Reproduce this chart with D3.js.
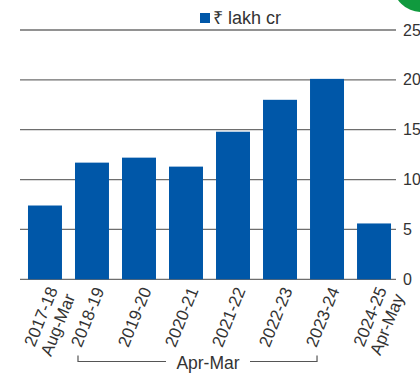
<!DOCTYPE html>
<html lang="en">
<head>
<meta charset="utf-8">
<style>
  body { margin: 0; background: #fff; }
  svg { display: block; font-family: "Liberation Sans", Arial, sans-serif; }
</style>
</head>
<body>
<div id="chart"></div>
<script src="https://d3js.org/d3.v7.min.js"></script>
<script>
const years = ["2017-18", "2018-19", "2019-20", "2020-21", "2021-22", "2022-23", "2023-24", "2024-25"];
const periods = ["Aug-Mar", "", "", "", "", "", "", "Apr-May"];
const values = [7.4, 11.7, 12.2, 11.3, 14.8, 18.0, 20.1, 5.6];
const yTicks = [0, 5, 10, 15, 20, 25];

const width = 420, height = 379;
const blue = "#0057a8";
const ink = "#333";

const svg = d3.select("#chart")
  .append("svg")
  .attr("width", width)
  .attr("height", height);

const x = d3.scaleBand()
  .domain(years)
  .range([21.5, 397.5])
  .paddingInner(0.277)
  .paddingOuter(0.138);

const y = d3.scaleLinear()
  .domain([0, 25])
  .range([279.3, 30]);

// logo corner
svg.append("circle")
  .attr("cx", 421).attr("cy", -16).attr("r", 28)
  .attr("fill", "#109a3e");

// grid lines
svg.append("g")
  .selectAll("line")
  .data(yTicks)
  .join("line")
  .attr("x1", 20).attr("x2", 396)
  .attr("y1", d => y(d)).attr("y2", d => y(d))
  .attr("stroke", "#6e6e6e")
  .attr("stroke-width", 1.3);

// y axis on the right
const yAxis = svg.append("g")
  .attr("transform", "translate(398,0)")
  .call(d3.axisRight(y).tickValues(yTicks).tickSize(0).tickPadding(5));
yAxis.select(".domain").remove();
yAxis.selectAll("text")
  .attr("font-size", 16)
  .attr("font-family", "Liberation Sans, Arial, sans-serif")
  .attr("fill", ink);

// bars
svg.append("g")
  .selectAll("rect")
  .data(values)
  .join("rect")
  .attr("x", (d, i) => x(years[i]))
  .attr("y", d => y(d))
  .attr("width", x.bandwidth())
  .attr("height", d => y(0) - y(d))
  .attr("fill", blue);

// x labels, rotated
const lab = svg.append("g")
  .selectAll("text")
  .data(years)
  .join("text")
  .attr("transform", (d, i) => {
    const cx = x(d) + x.bandwidth() / 2 + (periods[i] ? 16 : 7);
    return `translate(${cx},${periods[i] ? 291 : 288}) rotate(-68)`;
  })
  .attr("text-anchor", "end")
  .attr("font-size", 17)
  .attr("fill", ink);
lab.append("tspan")
  .attr("x", 0)
  .attr("dy", (d, i) => periods[i] ? "-0.19em" : "0.36em")
  .text(d => d);
lab.append("tspan")
  .attr("x", 0)
  .attr("dy", "1.1em")
  .text((d, i) => periods[i]);

// Apr-Mar bracket
const bx1 = x(years[1]) + 3, bx2 = x(years[6]) + 7;
const by = 361.5;
const bracket = svg.append("g")
  .attr("stroke", "#555").attr("stroke-width", 1.2).attr("fill", "none");
bracket.append("path").attr("d", `M${bx1},${by - 6}V${by}H${166}`);
bracket.append("path").attr("d", `M${250},${by}H${bx2}V${by - 6}`);
svg.append("text")
  .attr("x", 208).attr("y", 369)
  .attr("text-anchor", "middle")
  .attr("font-size", 17.5)
  .attr("fill", ink)
  .text("Apr-Mar");

// legend
svg.append("rect")
  .attr("x", 200).attr("y", 13).attr("width", 10).attr("height", 10)
  .attr("fill", blue);
svg.append("text")
  .attr("x", 213).attr("y", 24)
  .attr("font-size", 18)
  .attr("fill", ink)
  .text("₹ lakh cr");
</script>
</body>
</html>
